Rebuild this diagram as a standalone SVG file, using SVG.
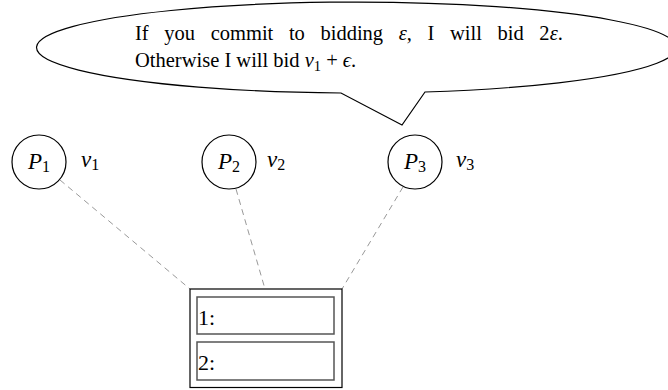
<svg xmlns="http://www.w3.org/2000/svg" width="668" height="390" viewBox="0 0 668 390">
<style>
.t{font-family:"Liberation Serif","DejaVu Serif",serif;fill:#000}
.b{font-size:20.5px}
.m{font-style:italic}
.node{fill:none;stroke:#000;stroke-width:1.2}
.dash{stroke:#999;stroke-width:1;stroke-dasharray:6 4.5;fill:none}
.inner{fill:#fff;stroke:#555;stroke-width:1.5}
</style>
<rect width="668" height="390" fill="#fff"/>
<g id="bubble">
<path d="M 425 92 A 320 45.5 0 1 0 341 93 L 402 125 Z" fill="#fff" stroke="#000" stroke-width="1.2" stroke-linejoin="miter"/>
<text class="t b" x="135" y="40" word-spacing="10.5">If you commit to bidding <tspan class="m">ε</tspan>, I will bid 2<tspan class="m">ε</tspan>.</text>
<text class="t b" x="135" y="67">Otherwise I will bid <tspan class="m">v</tspan><tspan font-size="14.5" dy="4">1</tspan><tspan dy="-4"> + </tspan><tspan class="m">ϵ</tspan>.</text>
</g>
<g id="connectors">
<line class="dash" x1="60" y1="180" x2="190" y2="289"/>
<line class="dash" x1="236" y1="189" x2="265" y2="289"/>
<line class="dash" x1="403" y1="187" x2="342" y2="289"/>
</g>
<g id="p1">
<circle class="node" cx="39" cy="162" r="27"/>
<text class="t" x="39" y="169" font-size="23" text-anchor="middle"><tspan class="m">P</tspan><tspan font-size="16" dy="3">1</tspan></text>
<text class="t" x="81" y="167" font-size="23"><tspan class="m">v</tspan><tspan font-size="16" dy="3">1</tspan></text>
</g>
<g id="p2">
<circle class="node" cx="229" cy="162" r="27"/>
<text class="t" x="229" y="169" font-size="23" text-anchor="middle"><tspan class="m">P</tspan><tspan font-size="16" dy="3">2</tspan></text>
<text class="t" x="267" y="167" font-size="23"><tspan class="m">v</tspan><tspan font-size="16" dy="3">2</tspan></text>
</g>
<g id="p3">
<circle class="node" cx="415" cy="162" r="27"/>
<text class="t" x="415" y="169" font-size="23" text-anchor="middle"><tspan class="m">P</tspan><tspan font-size="16" dy="3">3</tspan></text>
<text class="t" x="456" y="167" font-size="23"><tspan class="m">v</tspan><tspan font-size="16" dy="3">3</tspan></text>
</g>
<g id="box">
<rect x="190" y="289" width="152" height="98.5" fill="#fff" stroke="#000" stroke-width="1.2"/>
<rect class="inner" x="197" y="297" width="137" height="37"/>
<rect class="inner" x="197" y="342" width="137" height="38"/>
<text class="t" x="198" y="325" font-size="22">1:</text>
<text class="t" x="198" y="370" font-size="22">2:</text>
</g>
</svg>
